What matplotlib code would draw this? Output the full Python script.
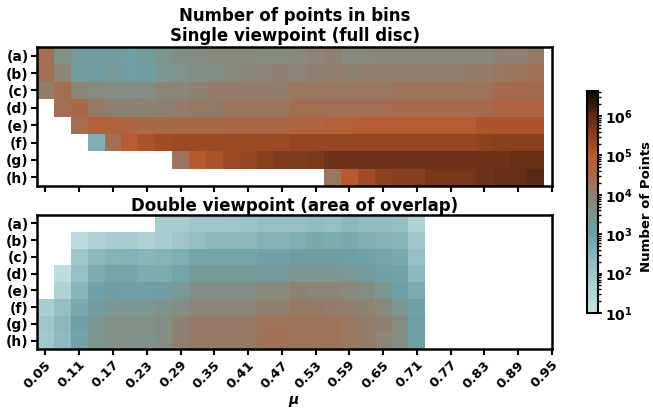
import numpy as np
import matplotlib
matplotlib.use("Agg")
import matplotlib.pyplot as plt
import matplotlib.transforms as mtransforms
from matplotlib.colors import LinearSegmentedColormap, LogNorm
from matplotlib.ticker import LogLocator, FuncFormatter

N = None
row_labels = ["(a)", "(b)", "(c)", "(d)", "(e)", "(f)", "(g)", "(h)"]
mu_ticks = ["0.05", "0.11", "0.17", "0.23", "0.29", "0.35", "0.41", "0.47",
            "0.53", "0.59", "0.65", "0.71", "0.77", "0.83", "0.89", "0.95"]

# log10(number of points) per mu bin (30 bins), single viewpoint
single_a = [4.4, 3.6, 3.2, 3.1, 3.1, 3.0, 3.2, 3.5, 3.7, 3.7, 3.8, 3.8, 3.8, 3.75, 3.75,
            3.8, 3.9, 4.0, 3.8, 3.8, 3.85, 3.85, 3.85, 3.85, 3.85, 3.85, 3.85, 4.0, 3.95, 4.15]
single_b = [4.4, 3.9, 3.15, 3.1, 3.3, 3.0, 3.1, 3.4, 3.5, 3.65, 3.7, 3.8, 3.85, 3.9, 3.95,
            3.9, 4.0, 4.05, 4.0, 4.05, 4.05, 4.05, 4.05, 4.05, 4.05, 4.1, 4.1, 4.2, 4.25, 4.35]
single_c = [4.1, 4.4, 3.9, 3.75, 3.7, 3.65, 3.7, 3.9, 3.9, 3.95, 4.1, 4.1, 4.1, 4.1, 4.1,
            4.2, 4.2, 4.2, 4.2, 4.2, 4.2, 4.3, 4.3, 4.3, 4.3, 4.3, 4.3, 4.45, 4.45, 4.45]
single_d = [N, 4.4, 4.5, 4.15, 4.0, 3.95, 3.95, 4.0, 4.1, 4.15, 4.15, 4.25, 4.25, 4.25, 4.25,
            4.4, 4.4, 4.4, 4.4, 4.4, 4.4, 4.45, 4.45, 4.45, 4.45, 4.45, 4.45, 4.65, 4.65, 4.65]
single_e = [N, N, 4.4, 4.8, 4.8, 4.65, 4.5, 4.5, 4.5, 4.5, 4.5, 4.55, 4.55, 4.55, 4.55,
            4.7, 4.7, 4.85, 4.85, 4.95, 4.95, 4.95, 4.95, 4.95, 4.95, 4.95, 5.1, 5.1, 5.1, 5.1]
single_f = [N, N, N, 2.6, 4.4, 4.95, 5.15, 5.25, 5.3, 5.3, 5.3, 5.3, 5.3, 5.3, 5.3,
            5.4, 5.4, 5.4, 5.4, 5.4, 5.4, 5.4, 5.4, 5.4, 5.4, 5.4, 5.45, 5.5, 5.5, 5.5]
single_g = [N, N, N, N, N, N, N, N, 4.25, 5.0, 5.15, 5.3, 5.4, 5.5, 5.6,
            5.6, 5.65, 5.8, 5.8, 5.8, 5.8, 5.8, 5.8, 5.8, 5.8, 5.8, 5.8, 5.8, 5.85, 5.85]
single_h = [N, N, N, N, N, N, N, N, N, N, N, N, N, N, N,
            N, N, 4.2, 5.0, 5.25, 5.45, 5.55, 5.55, 5.7, 5.7, 5.7, 5.8, 5.9, 5.9, 6.0]

# log10(number of points) per mu bin, double viewpoint (area of overlap)
double_a = [N, N, N, N, N, N, N, 1.8, 1.8, 2.0, 2.0, 2.05, 2.1, 2.2, 2.2,
            2.2, 2.3, 2.2, 2.4, 2.3, 2.3, 2.25, 1.6, N, N, N, N, N, N, N]
double_b = [N, N, 1.3, 1.6, 1.8, 1.8, 1.6, 1.8, 2.05, 2.25, 2.4, 2.4, 2.4, 2.55, 2.55,
            2.65, 2.75, 2.7, 2.75, 2.6, 2.55, 2.45, 2.0, N, N, N, N, N, N, N]
double_c = [N, N, 2.0, 2.4, 2.5, 2.55, 2.45, 2.5, 2.65, 2.85, 2.85, 2.85, 2.85, 2.95, 2.95,
            3.1, 3.1, 3.1, 3.0, 2.95, 2.85, 2.75, 2.2, N, N, N, N, N, N, N]
double_d = [N, 1.2, 2.2, 2.7, 2.85, 2.85, 2.7, 2.7, 2.85, 3.25, 3.25, 3.25, 3.25, 3.25, 3.25,
            3.45, 3.45, 3.45, 3.35, 3.15, 2.95, 2.9, 2.4, N, N, N, N, N, N, N]
double_e = [N, 1.6, 2.45, 2.95, 3.1, 3.0, 3.0, 3.1, 3.35, 3.65, 3.65, 3.65, 3.65, 3.8, 3.8,
            3.95, 3.9, 3.9, 3.8, 3.7, 3.45, 3.0, 2.7, N, N, N, N, N, N, N]
double_f = [1.8, 2.25, 2.75, 3.15, 3.4, 3.4, 3.4, 3.55, 3.7, 3.9, 3.9, 3.9, 3.9, 4.0, 4.0,
            4.15, 4.15, 4.1, 4.05, 3.95, 3.8, 3.45, 2.95, N, N, N, N, N, N, N]
double_g = [2.0, 2.4, 2.95, 3.45, 3.6, 3.6, 3.6, 3.7, 3.95, 4.15, 4.15, 4.15, 4.15, 4.3, 4.3,
            4.3, 4.3, 4.3, 4.2, 4.1, 3.95, 3.75, 3.0, N, N, N, N, N, N, N]
double_h = [1.95, 2.35, 2.9, 3.5, 3.6, 3.6, 3.55, 3.7, 3.95, 4.15, 4.15, 4.15, 4.15, 4.35, 4.35,
            4.3, 4.3, 4.3, 4.2, 4.1, 3.85, 3.7, 3.0, N, N, N, N, N, N, N]

single_rows = [single_a, single_b, single_c, single_d, single_e, single_f, single_g, single_h]
double_rows = [double_a, double_b, double_c, double_d, double_e, double_f, double_g, double_h]


def to_counts(rows):
    arr = np.array([[np.nan if v is None else v for v in r] for r in rows], dtype=float)
    return np.ma.masked_invalid(10.0 ** arr)


vmin, vmax = 10.0, 4.3e6
lo, hi = np.log10(vmin), np.log10(vmax)
nodes = [(1.0, "#c6e3e5"), (2.0, "#9fc7cb"), (3.0, "#6d9fa6"), (3.5, "#7e958f"),
         (4.0, "#8e8070"), (4.5, "#a8694a"), (5.0, "#b85a2e"), (5.5, "#8a401f"),
         (6.0, "#5c2a15"), (hi, "#0d0806")]
cmap = LinearSegmentedColormap.from_list(
    "custom", [((L - lo) / (hi - lo), c) for L, c in nodes])
cmap.set_bad("white")
norm = LogNorm(vmin=vmin, vmax=vmax)

plt.rcParams["font.family"] = "DejaVu Sans"
plt.rcParams["font.weight"] = "bold"
plt.rcParams["mathtext.default"] = "bf"

W, H = 653, 409
fig = plt.figure(figsize=(W / 100, H / 100), dpi=100)


def rect(x0, y0, x1, y1):
    return [x0 / W, 1 - y1 / H, (x1 - x0) / W, (y1 - y0) / H]


ax1 = fig.add_axes(rect(37, 47, 552, 186))
ax2 = fig.add_axes(rect(37, 215, 552, 349))
cax = fig.add_axes(rect(587, 91, 598, 313))

ncol = len(single_a)
xedges = np.arange(ncol + 1) - 0.5
yedges = np.arange(len(row_labels) + 1) - 0.5

for ax, rows in [(ax1, single_rows), (ax2, double_rows)]:
    mesh = ax.pcolormesh(xedges, yedges, to_counts(rows), cmap=cmap, norm=norm,
                         shading="flat")
    ax.set_xlim(-0.5, 30.0)
    ax.set_ylim(len(row_labels) - 0.5, -0.5)
    ax.set_yticks(range(len(row_labels)))
    ax.set_yticklabels(row_labels, fontsize=10, fontweight="bold")
    ax.set_xticks(range(0, 31, 2))
    for s in ax.spines.values():
        s.set_linewidth(1.8)
    ax.tick_params(axis="both", width=1.5, length=4, pad=2)

ax1.set_xticklabels([])
ax2.set_xticklabels(mu_ticks, rotation=45, fontsize=9.5, fontweight="bold",
                    ha="right", va="center", rotation_mode="anchor")
ax2.tick_params(axis="x", pad=6)
shift = mtransforms.ScaledTranslation(4 / 100, 0, fig.dpi_scale_trans)
for lab in ax2.get_xticklabels():
    lab.set_transform(lab.get_transform() + shift)
fig.text(294 / W, 1 - 400 / H, "μ", ha="center", va="center", fontsize=10,
         fontweight="bold", fontstyle="italic")

ax1.set_title("Number of points in bins\nSingle viewpoint (full disc)",
              fontsize=12, fontweight="bold", pad=4, linespacing=1.15)
ax2.set_title("Double viewpoint (area of overlap)", fontsize=12,
              fontweight="bold", pad=3)

cb = fig.colorbar(mesh, cax=cax)
cb.outline.set_linewidth(1.5)
cb.ax.yaxis.set_major_locator(LogLocator(base=10))
cb.ax.yaxis.set_major_formatter(
    FuncFormatter(lambda v, p: r"$\mathbf{10^{%d}}$" % round(np.log10(v))))
cb.ax.tick_params(which="major", labelsize=10, width=1.3, length=3, pad=2)
cb.ax.tick_params(which="minor", width=1.0, length=2)
fig.text(647 / W, 1 - 207 / H, "Number of Points", rotation=90, ha="center",
         va="center", fontsize=9.5, fontweight="bold")

fig.savefig("out.png", dpi=100)
